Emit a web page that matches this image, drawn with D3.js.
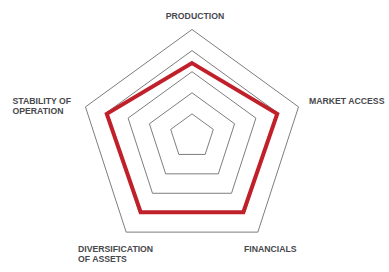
<!DOCTYPE html>
<html><head><meta charset="utf-8">
<script src="https://cdn.jsdelivr.net/npm/d3@7"></script>
<style>html,body{margin:0;padding:0;background:#fff;}svg{display:block;}</style>
</head><body>
<svg id="chart" width="389" height="272"></svg>
<script>
const categories = ["PRODUCTION", "MARKET ACCESS", "FINANCIALS", "DIVERSIFICATION OF ASSETS", "STABILITY OF OPERATION"];
const labelLines = [["PRODUCTION"], ["MARKET ACCESS"], ["FINANCIALS"], ["DIVERSIFICATION", "OF ASSETS"], ["STABILITY OF", "OPERATION"]];
const values = [3.5, 4, 3.9, 3.9, 4];
const gridLevels = [1, 2, 3, 4, 5];
const maxValue = 5;

const svg = d3.select("#chart");
const cx = 192, cy = 141.5, R = 112;
const r = d3.scaleLinear().domain([0, maxValue]).range([0, R]);
const angle = d3.scaleLinear().domain([0, categories.length]).range([0, 2 * Math.PI]);
const pt = (i, v, dy = 0) => {
  const a = angle(i);
  return [cx + r(v) * Math.sin(a), cy + dy - r(v) * Math.cos(a)];
};
const line = d3.line().curve(d3.curveLinearClosed);

// grid (inner rings sit slightly higher, as in the reference)
svg.append("g").selectAll("path").data(gridLevels).join("path")
  .attr("d", lv => line(categories.map((c, i) => pt(i, lv, (lv - 5) * 1.3))))
  .attr("fill", "none").attr("stroke", "#6e6e6e").attr("stroke-width", 0.9);

// data
svg.append("path")
  .attr("d", line(values.map((v, i) => pt(i, v))))
  .attr("fill", "none").attr("stroke", "#c0202a").attr("stroke-width", 4)
  .attr("stroke-linejoin", "miter");

// labels
const labelPos = [
  {x: 195, y: 19, anchor: "middle"},
  {x: 309, y: 104, anchor: "start"},
  {x: 244, y: 252, anchor: "start"},
  {x: 78, y: 252, anchor: "start"},
  {x: 12.5, y: 104, anchor: "start"}
];
const lg = svg.append("g").attr("font-family", "Liberation Sans, Arial, sans-serif")
  .attr("font-weight", "bold").attr("font-size", 8.7).attr("fill", "#47474c");
labelLines.forEach((lines, i) => {
  const t = lg.append("text").attr("x", labelPos[i].x).attr("y", labelPos[i].y)
    .attr("text-anchor", labelPos[i].anchor);
  lines.forEach((s, j) => t.append("tspan").attr("x", labelPos[i].x).attr("dy", j === 0 ? 0 : 10).text(s));
});
</script>
</body></html>
